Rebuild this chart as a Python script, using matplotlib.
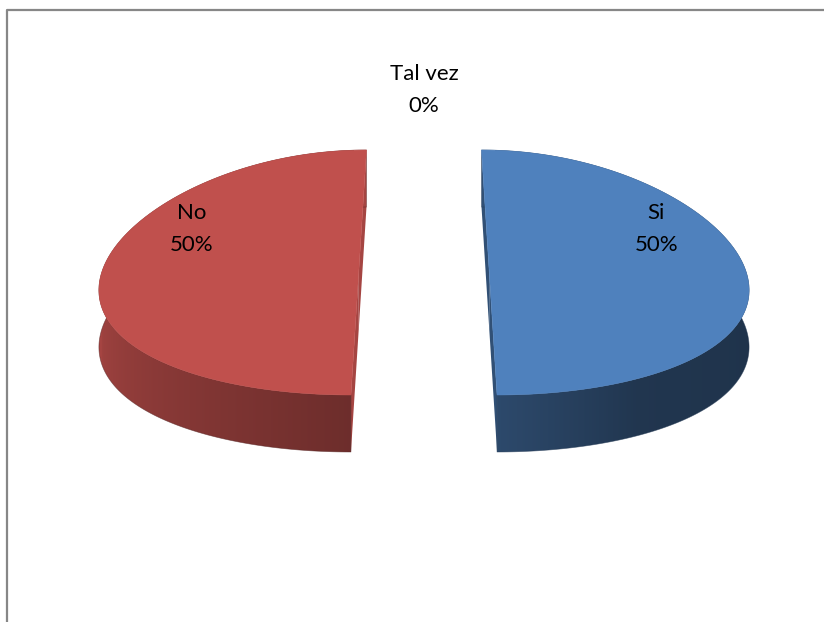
import numpy as np
import matplotlib
matplotlib.use("Agg")
import matplotlib.pyplot as plt
from matplotlib.patches import Polygon
from matplotlib.lines import Line2D

# Survey answers
labels = ["Si", "No", "Tal vez"]
values = [50, 50, 0]
colors = ["#4F81BD", "#C0504D", "#9BBB59"]

plt.rcParams["font.family"] = ["Lato", "DejaVu Sans"]

W, H = 824, 622
fig = plt.figure(figsize=(W / 100, H / 100), dpi=100)
ax = fig.add_axes([0, 0, 1, 1])
ax.set_xlim(0, W)
ax.set_ylim(H, 0)
ax.axis("off")

# chart-area frame (cut by the image edge on the right and bottom)
ax.add_line(Line2D([7, 7, W + 5], [H + 5, 9.5, 9.5], color="#878787", lw=1.6))

# 3-D projection parameters (pixel space)
X0, Y0 = 424.0, 272.5      # pie centre
R, B = 257.0, 122.5         # horizontal / vertical radii of the top face
K = 0.119                   # perspective narrowing towards the back
D = 57.0                    # thickness of the pie
EXPLODE = 0.254             # explosion distance, in radii


def proj(u, v, z=0.0):
    p = 1.0 - K * v
    return X0 + R * u * p, Y0 - B * v + z * D


def shade(hex_color, f):
    rgb = np.array(matplotlib.colors.to_rgb(hex_color))
    return np.clip(rgb * f, 0, 1)


# brightness of the outer wall versus the wall's angle (lit from the left)
shade_t = np.array([-270, -180, -135, -90, -60, 0, 90])
shade_f = np.array([0.88, 0.88, 0.72, 0.57, 0.42, 0.39, 0.39])


def wall_factor(t_deg):
    t = ((np.asarray(t_deg) + 270) % 360) - 270
    return np.interp(t, shade_t, shade_f)


total = float(sum(values))
start = 90.0  # first slice starts at 12 o'clock, running clockwise
geoms = []
for lab, val, col in zip(labels, values, colors):
    sweep = 360.0 * val / total
    a0, a1 = start, start - sweep
    mid = np.radians((a0 + a1) / 2)
    geoms.append((lab, val, col, a0, a1, mid))
    start = a1

for lab, val, col, a0, a1, mid in geoms:
    if val <= 0:
        continue
    ou, ov = EXPLODE * np.cos(mid), EXPLODE * np.sin(mid)
    ts = np.linspace(a0, a1, 721)
    us = ou + np.cos(np.radians(ts))
    vs = ov + np.sin(np.radians(ts))

    # radial cut faces
    cut = shade(col, 0.62 if col == "#4F81BD" else 0.86)
    for a in (a0, a1):
        eu, ev = ou + np.cos(np.radians(a)), ov + np.sin(np.radians(a))
        pts = [proj(ou, ov), proj(eu, ev), proj(eu, ev, 1), proj(ou, ov, 1)]
        ax.add_patch(Polygon(pts, closed=True, facecolor=cut,
                             edgecolor="none", zorder=2))

    # outer wall: band between the top rim and the bottom rim
    top_rim = [proj(u, v) for u, v in zip(us, vs)]
    bot_rim = [proj(u, v, 1) for u, v in zip(us, vs)]
    wall = Polygon(top_rim + bot_rim[::-1], closed=True, facecolor="none",
                   edgecolor="none", zorder=3)
    ax.add_patch(wall)

    # horizontal shading across the wall, driven by the front rim angle
    front = np.sin(np.radians(ts)) <= 0
    fx = np.array([p[0] for p in top_rim])[front]
    ft = ts[front]
    srt = np.argsort(fx)
    fx, ft = fx[srt], ft[srt]
    xmin, xmax = fx.min() - 2, fx.max() + 2
    cols_x = np.linspace(xmin, xmax, 400)
    tt = np.interp(cols_x, fx, ft)
    grad = np.array([shade(col, f) for f in wall_factor(tt)])[None, :, :]
    ymin = min(p[1] for p in top_rim) - 2
    ymax = max(p[1] for p in bot_rim) + 2
    im = ax.imshow(grad, extent=(xmin, xmax, ymax, ymin), aspect="auto",
                   interpolation="bilinear", zorder=3)
    im.set_clip_path(wall)
    # soft outline so the clipped edge stays smooth
    ax.add_patch(Polygon(top_rim + bot_rim[::-1], closed=True, facecolor="none",
                         edgecolor=shade(col, 0.45), lw=0.5, alpha=0.6, zorder=3.1))

    # top face
    top = [proj(ou, ov)] + top_rim
    ax.add_patch(Polygon(top, closed=True, facecolor=col, edgecolor=col,
                         lw=0.4, zorder=4))

# data labels: category name above, share below
for lab, val, col, a0, a1, mid in geoms:
    pct = f"{val / total * 100:.0f}%"
    if val > 0:
        u = (EXPLODE + 0.69) * np.cos(mid)
        v = 0.355
    else:
        u, v = 0.0, 1.486
    x, y = proj(u, v)
    ax.text(x, y - 16, lab, ha="center", va="center", fontsize=16,
            color="#000000", zorder=6)
    ax.text(x, y + 16, pct, ha="center", va="center", fontsize=16,
            color="#000000", zorder=6)

fig.savefig("out.png", dpi=100)
